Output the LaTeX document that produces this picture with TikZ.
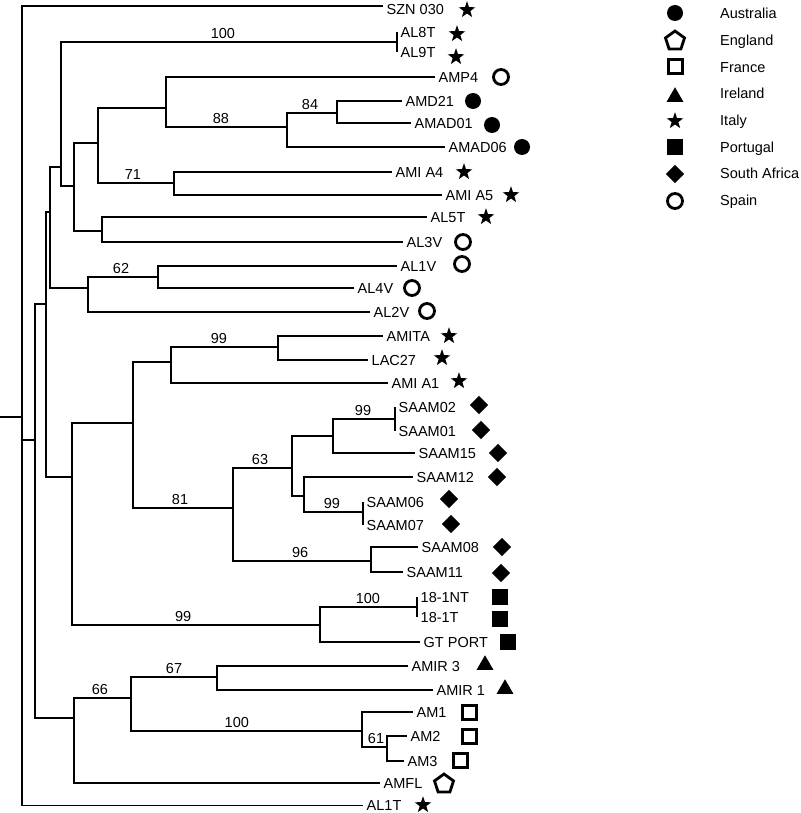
\documentclass[tikz,border=0pt]{standalone}
\usepackage{fontspec}
\setmainfont{Liberation Sans}
\usetikzlibrary{shapes.geometric}
\newcommand\leaffont{\fontsize{14.5}{17}\selectfont}
\begin{document}
\begin{tikzpicture}[x=1pt,y=-1pt,
  br/.style={line width=1.5pt, line join=miter},
  leaf/.style={anchor=west, inner xsep=3.5pt, inner ysep=0pt, text height=10.4pt, text depth=0pt, font=\leaffont},
  bs/.style={anchor=south, inner sep=3pt, font=\leaffont},
  leg/.style={anchor=west, inner sep=0pt, text height=10.4pt, text depth=0pt, font=\leaffont},
  fcirc/.style={circle, fill=black, inner sep=0pt, minimum size=16pt},
  ocirc/.style={circle, draw=black, line width=2.8pt, inner sep=0pt, minimum size=15pt},
  fsq/.style={rectangle, fill=black, inner sep=0pt, minimum size=16pt},
  osq/.style={rectangle, draw=black, line width=3pt, inner sep=0pt, minimum size=14pt},
  tri/.style={regular polygon, regular polygon sides=3, fill=black, inner sep=0pt, minimum size=19.5pt},
  starsym/.style={star, star points=5, star point ratio=2.5, fill=black, inner sep=0pt, minimum size=17.5pt},
  pent/.style={regular polygon, regular polygon sides=5, draw=black, line width=2.8pt, inner sep=0pt, minimum size=20pt},
  dia/.style={diamond, fill=black, inner sep=0pt, minimum size=18.5pt}]
\useasboundingbox (0,0) rectangle (800,813);

% internal nodes
\coordinate (stub) at (0,417);
\coordinate (root) at (22,417);
\coordinate (n35) at (35,440);
\coordinate (n46) at (46,304);
\coordinate (n50) at (50,212);
\coordinate (n61) at (61,167);
\coordinate (n397) at (397,42);
\coordinate (n74a) at (74,186);
\coordinate (n98) at (98,143);
\coordinate (n166) at (166,108);
\coordinate (n287) at (287,127);
\coordinate (n337) at (337,113);
\coordinate (n174) at (174,183);
\coordinate (n102) at (102,231);
\coordinate (n88) at (88,288);
\coordinate (n158) at (158,277);
\coordinate (n72) at (72,477);
\coordinate (n133) at (133,423);
\coordinate (n171) at (171,362);
\coordinate (n278) at (278,347);
\coordinate (n233) at (233,508);
\coordinate (n292) at (292,468);
\coordinate (n333) at (333,436);
\coordinate (n395) at (395,419);
\coordinate (n304) at (304,496);
\coordinate (n363) at (363,512);
\coordinate (n371) at (371,561);
\coordinate (n320) at (320,625);
\coordinate (n417) at (417,607);
\coordinate (n74) at (74,718);
\coordinate (n131) at (131,698);
\coordinate (n217) at (217,677);
\coordinate (n362) at (362,731);
\coordinate (n387) at (387,747);

% leaves
\coordinate (eSZN) at (383,6);
\node[leaf] (SZN) at (383,9) {SZN 030};
\node[leaf] (AL8T) at (397,32) {AL8T};
\node[leaf] (AL9T) at (397,52) {AL9T};
\node[leaf] (AMP4) at (435,77) {AMP4};
\node[leaf] (AMD21) at (402,101) {AMD21};
\node[leaf] (AMAD01) at (411,123) {AMAD01};
\node[leaf] (AMAD06) at (445,147) {AMAD06};
\node[leaf] (AMIA4) at (392,172) {AMI A4};
\node[leaf] (AMIA5) at (442,195) {AMI A5};
\node[leaf] (AL5T) at (427,217) {AL5T};
\node[leaf] (AL3V) at (403,242) {AL3V};
\node[leaf] (AL1V) at (397,266) {AL1V};
\node[leaf] (AL4V) at (354,288) {AL4V};
\node[leaf] (AL2V) at (370,312) {AL2V};
\node[leaf] (AMITA) at (383,336) {AMITA};
\node[leaf] (LAC27) at (368,360) {LAC27};
\node[leaf] (AMIA1) at (388,383) {AMI A1};
\node[leaf] (SAAM02) at (395,407) {SAAM02};
\node[leaf] (SAAM01) at (395,431) {SAAM01};
\node[leaf] (SAAM15) at (415,453) {SAAM15};
\node[leaf] (SAAM12) at (413,477) {SAAM12};
\node[leaf] (SAAM06) at (363,502) {SAAM06};
\node[leaf] (SAAM07) at (363,525) {SAAM07};
\node[leaf] (SAAM08) at (418,547) {SAAM08};
\node[leaf] (SAAM11) at (403,572) {SAAM11};
\node[leaf] (pNT) at (417,597) {18-1NT};
\node[leaf] (pT) at (417,617) {18-1T};
\node[leaf] (GTPORT) at (420,642) {GT PORT};
\node[leaf] (AMIR3) at (408,666) {AMIR 3};
\node[leaf] (AMIR1) at (433,690) {AMIR 1};
\node[leaf] (AM1) at (413,712) {AM1};
\node[leaf] (AM2) at (407,736) {AM2};
\node[leaf] (AM3) at (404,761) {AM3};
\node[leaf] (AMFL) at (380,783) {AMFL};
\node[leaf] (AL1T) at (363,805.5) {AL1T};

% branches
\draw[br] (stub) -- (root);
\draw[br] (root) |- (eSZN);
\draw[br] (root) |- (n35);
\draw[br] (root) |- (AL1T.west);
\draw[br] (n35) |- (n46);
\draw[br] (n35) |- (n74);
\draw[br] (n46) |- (n50);
\draw[br] (n46) |- (n72);
\draw[br] (n50) |- (n61);
\draw[br] (n50) |- (n88);
\draw[br] (n61) |- node[bs,pos=.741] (b1) {100} (n397);
\draw[br] (n61) |- (n74a);
\draw[br] (n397) |- (AL8T.west);
\draw[br] (n397) |- (AL9T.west);
\draw[br] (n74a) |- (n98);
\draw[br] (n74a) |- (n102);
\draw[br] (n98) |- (n166);
\draw[br] (n98) |- node[bs,pos=.73] (b4) {71} (n174);
\draw[br] (n166) |- (AMP4.west);
\draw[br] (n166) |- node[bs,pos=.727] (b2) {88} (n287);
\draw[br] (n287) |- node[bs,pos=.73] (b3) {84} (n337);
\draw[br] (n287) |- (AMAD06.west);
\draw[br] (n337) |- (AMD21.west);
\draw[br] (n337) |- (AMAD01.west);
\draw[br] (n174) |- (AMIA4.west);
\draw[br] (n174) |- (AMIA5.west);
\draw[br] (n102) |- (AL5T.west);
\draw[br] (n102) |- (AL3V.west);
\draw[br] (n88) |- node[bs,pos=.736] (b5) {62} (n158);
\draw[br] (n88) |- (AL2V.west);
\draw[br] (n158) |- (AL1V.west);
\draw[br] (n158) |- (AL4V.west);
\draw[br] (n72) |- (n133);
\draw[br] (n72) |- node[bs,pos=.724] (b13) {99} (n320);
\draw[br] (n133) |- (n171);
\draw[br] (n133) |- node[bs,pos=.735] (b7) {81} (n233);
\draw[br] (n171) |- node[bs,pos=.724] (b6) {99} (n278);
\draw[br] (n171) |- (AMIA1.west);
\draw[br] (n278) |- (AMITA.west);
\draw[br] (n278) |- (LAC27.west);
\draw[br] (n233) |- node[bs,pos=.729] (b8) {63} (n292);
\draw[br] (n233) |- node[bs,pos=.743] (b11) {96} (n371);
\draw[br] (n292) |- (n333);
\draw[br] (n292) |- (n304);
\draw[br] (n333) |- node[bs,pos=.742] (b9) {99} (n395);
\draw[br] (n333) |- (SAAM15.west);
\draw[br] (n395) |- (SAAM02.west);
\draw[br] (n395) |- (SAAM01.west);
\draw[br] (n304) |- (SAAM12.west);
\draw[br] (n304) |- node[bs,pos=.737] (b10) {99} (n363);
\draw[br] (n363) |- (SAAM06.west);
\draw[br] (n363) |- (SAAM07.west);
\draw[br] (n371) |- (SAAM08.west);
\draw[br] (n371) |- (SAAM11.west);
\draw[br] (n320) |- node[bs,pos=.747] (b12) {100} (n417);
\draw[br] (n320) |- (GTPORT.west);
\draw[br] (n417) |- (pNT.west);
\draw[br] (n417) |- (pT.west);
\draw[br] (n74) |- node[bs,pos=.728] (b14) {66} (n131);
\draw[br] (n74) |- (AMFL.west);
\draw[br] (n131) |- node[bs,pos=.75] (b15) {67} (n217);
\draw[br] (n131) |- node[bs,pos=.729] (b16) {100} (n362);
\draw[br] (n217) |- (AMIR3.west);
\draw[br] (n217) |- (AMIR1.west);
\draw[br] (n362) |- (AM1.west);
\draw[br] (n362) |- node[bs,pos=.78] (b17) {61} (n387);
\draw[br] (n387) |- (AM2.west);
\draw[br] (n387) |- (AM3.west);

% leaf symbols
\node[starsym] (s1) at (467,10) {};
\node[starsym] (s2) at (457,34) {};
\node[starsym] (s3) at (456,57) {};
\node[ocirc] (s4) at (501,77) {};
\node[fcirc] (s5) at (473,101) {};
\node[fcirc] (s6) at (492,125) {};
\node[fcirc] (s7) at (522,147) {};
\node[starsym] (s8) at (464,172) {};
\node[starsym] (s9) at (511,195) {};
\node[starsym] (s10) at (486,217) {};
\node[ocirc] (s11) at (463,242) {};
\node[ocirc] (s12) at (462,264) {};
\node[ocirc] (s13) at (412,288) {};
\node[ocirc] (s14) at (427,311) {};
\node[starsym] (s15) at (449,336) {};
\node[starsym] (s16) at (442,358) {};
\node[starsym] (s17) at (459,381) {};
\node[dia] (s18) at (479,405) {};
\node[dia] (s19) at (481,430) {};
\node[dia] (s20) at (498,453) {};
\node[dia] (s21) at (497,477) {};
\node[dia] (s22) at (449,499) {};
\node[dia] (s23) at (451,524) {};
\node[dia] (s24) at (502,547) {};
\node[dia] (s25) at (501,573) {};
\node[fsq] (s26) at (500,597) {};
\node[fsq] (s27) at (500,619) {};
\node[fsq] (s28) at (508,642) {};
\node[tri] (s29) at (485,665) {};
\node[tri] (s30) at (505,689) {};
\node[osq] (s31) at (469,712) {};
\node[osq] (s32) at (469,736) {};
\node[osq] (s33) at (460,760) {};
\node[pent] (s34) at (444,784) {};
\node[starsym] (s35) at (423,805) {};

% legend
\node[fcirc] (g1) at (675,13) {};
\node[pent] (g2) at (675,41) {};
\node[osq] (g3) at (675,67) {};
\node[tri] (g4) at (675,97) {};
\node[starsym] (g5) at (675,121) {};
\node[fsq] (g6) at (675,147) {};
\node[dia] (g7) at (675,174) {};
\node[ocirc] (g8) at (675,201) {};
\node[leg] (t1) at (720,13) {Australia};
\node[leg] (t2) at (720,40) {England};
\node[leg] (t3) at (720,67) {France};
\node[leg] (t4) at (720,93) {Ireland};
\node[leg] (t5) at (720,120) {Italy};
\node[leg] (t6) at (720,147) {Portugal};
\node[leg] (t7) at (720,173) {South Africa};
\node[leg] (t8) at (720,200) {Spain};
\end{tikzpicture}
\end{document}
